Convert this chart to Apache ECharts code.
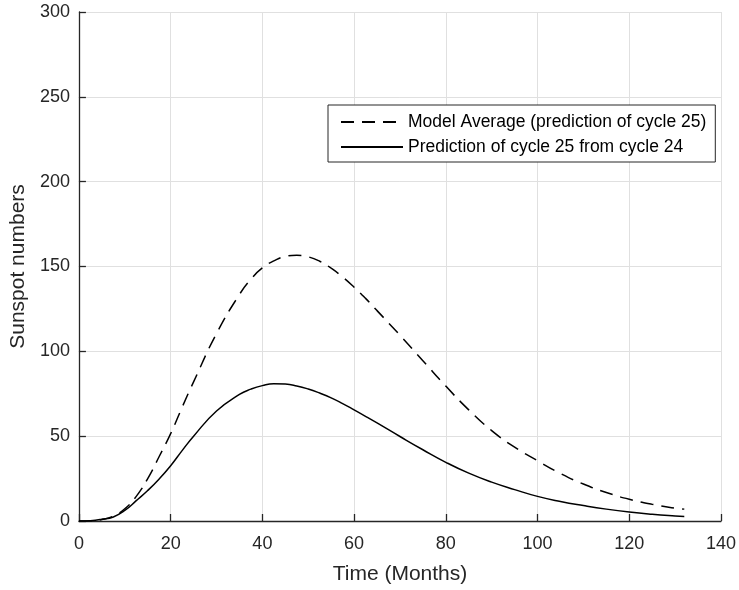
<!DOCTYPE html>
<html>
<head>
<meta charset="utf-8">
<script src="https://cdn.jsdelivr.net/npm/echarts@6/dist/echarts.min.js"></script>
<style>
html,body{margin:0;padding:0;background:#fff;}
#chart{width:739px;height:590px;}
</style>
</head>
<body>
<div id="chart"></div>
<script>
// Time in months
var months = [0, 2.5, 5, 7.5, 10, 12.5, 15, 17.5, 20, 22.5, 25, 30, 35, 37.5, 40, 42.5, 45, 47.5, 50, 52.5, 55, 57.5, 60, 62.5, 65, 70, 75, 80, 85, 90, 95, 100, 105, 110, 115, 120, 125, 130, 132];
// Model Average (prediction of cycle 25)
var modelAverage = [0, 0.1, 0.9, 2.9, 7.2, 14.5, 25, 38, 51.5, 67, 82, 110.5, 133.5, 142.5, 149.2, 153.3, 155.9, 156.6, 155.7, 153.1, 149, 143.8, 137.8, 131.2, 124, 109.5, 94.5, 79.5, 65.5, 53.3, 43.5, 35.5, 28, 21.8, 16.8, 12.8, 9.8, 7.6, 7];
// Prediction of cycle 25 from cycle 24
var fromCycle24 = [0, 0.2, 1, 2.4, 6.2, 12, 18, 24.8, 32.6, 41.5, 50, 64.8, 74.6, 77.7, 79.8, 80.9, 80.7, 79.6, 77.8, 75.4, 72.6, 69.2, 65.5, 61.7, 57.8, 49.8, 42, 34.6, 28.2, 22.9, 18.5, 14.5, 11.5, 9.1, 7, 5.3, 4, 3, 2.7];

var xTicks = {min: 0, max: 140, interval: 20};
var yTicks = {min: 0, max: 300, interval: 50};

function pairs(xs, ys) {
  return xs.map(function (x, i) { return [x, ys[i]]; });
}

var font = 'Liberation Sans, Arial, Helvetica, sans-serif';
var chart = echarts.init(document.getElementById('chart'), null, {renderer: 'canvas'});
chart.setOption({
  animation: false,
  backgroundColor: '#ffffff',
  grid: {left: 77, right: 13, top: 12, bottom: 66, containLabel: false},
  legend: {
    orient: 'vertical',
    left: 328,
    top: 105,
    padding: [7, 9, 5, 12],
    itemWidth: 62,
    itemHeight: 14,
    itemGap: 5,
    backgroundColor: '#ffffff',
    borderColor: '#262626',
    borderWidth: 1,
    borderRadius: 0,
    itemStyle: {color: 'rgba(0,0,0,0)', borderWidth: 0, opacity: 0},
    textStyle: {fontFamily: font, fontSize: 17.5, color: '#000000', lineHeight: 20},
    data: ['Model Average (prediction of cycle 25)', 'Prediction of cycle 25 from cycle 24']
  },
  xAxis: {
    type: 'value',
    min: xTicks.min, max: xTicks.max, interval: xTicks.interval,
    name: 'Time (Months)',
    nameLocation: 'middle',
    nameGap: 43,
    nameTextStyle: {fontFamily: font, fontSize: 21, color: '#262626'},
    axisLine: {show: true, onZero: false, lineStyle: {color: '#262626', width: 1.3}},
    axisTick: {show: true, inside: true, length: 7, lineStyle: {color: '#262626', width: 1.3}},
    axisLabel: {fontFamily: font, fontSize: 18, color: '#262626', margin: 14},
    splitLine: {show: true, lineStyle: {color: '#e0e0e0', width: 1}}
  },
  yAxis: {
    type: 'value',
    min: yTicks.min, max: yTicks.max, interval: yTicks.interval,
    name: 'Sunspot numbers',
    nameLocation: 'middle',
    nameGap: 48,
    nameTextStyle: {fontFamily: font, fontSize: 21, color: '#262626'},
    axisLine: {show: true, lineStyle: {color: '#262626', width: 1.3}},
    axisTick: {show: true, inside: true, length: 7, lineStyle: {color: '#262626', width: 1.3}},
    axisLabel: {fontFamily: font, fontSize: 18, color: '#262626', margin: 9},
    splitLine: {show: true, lineStyle: {color: '#e0e0e0', width: 1}}
  },
  series: [
    {
      name: 'Model Average (prediction of cycle 25)',
      type: 'line',
      data: pairs(months, modelAverage),
      smooth: 0.5,
      symbol: 'none',
      lineStyle: {color: '#000000', width: 1.5, type: [13, 8]},
      itemStyle: {color: '#000000'},
      z: 3
    },
    {
      name: 'Prediction of cycle 25 from cycle 24',
      type: 'line',
      data: pairs(months, fromCycle24),
      smooth: 0.5,
      symbol: 'none',
      lineStyle: {color: '#000000', width: 1.5, type: 'solid'},
      itemStyle: {color: '#000000'},
      z: 3
    }
  ]
});
</script>
</body>
</html>
